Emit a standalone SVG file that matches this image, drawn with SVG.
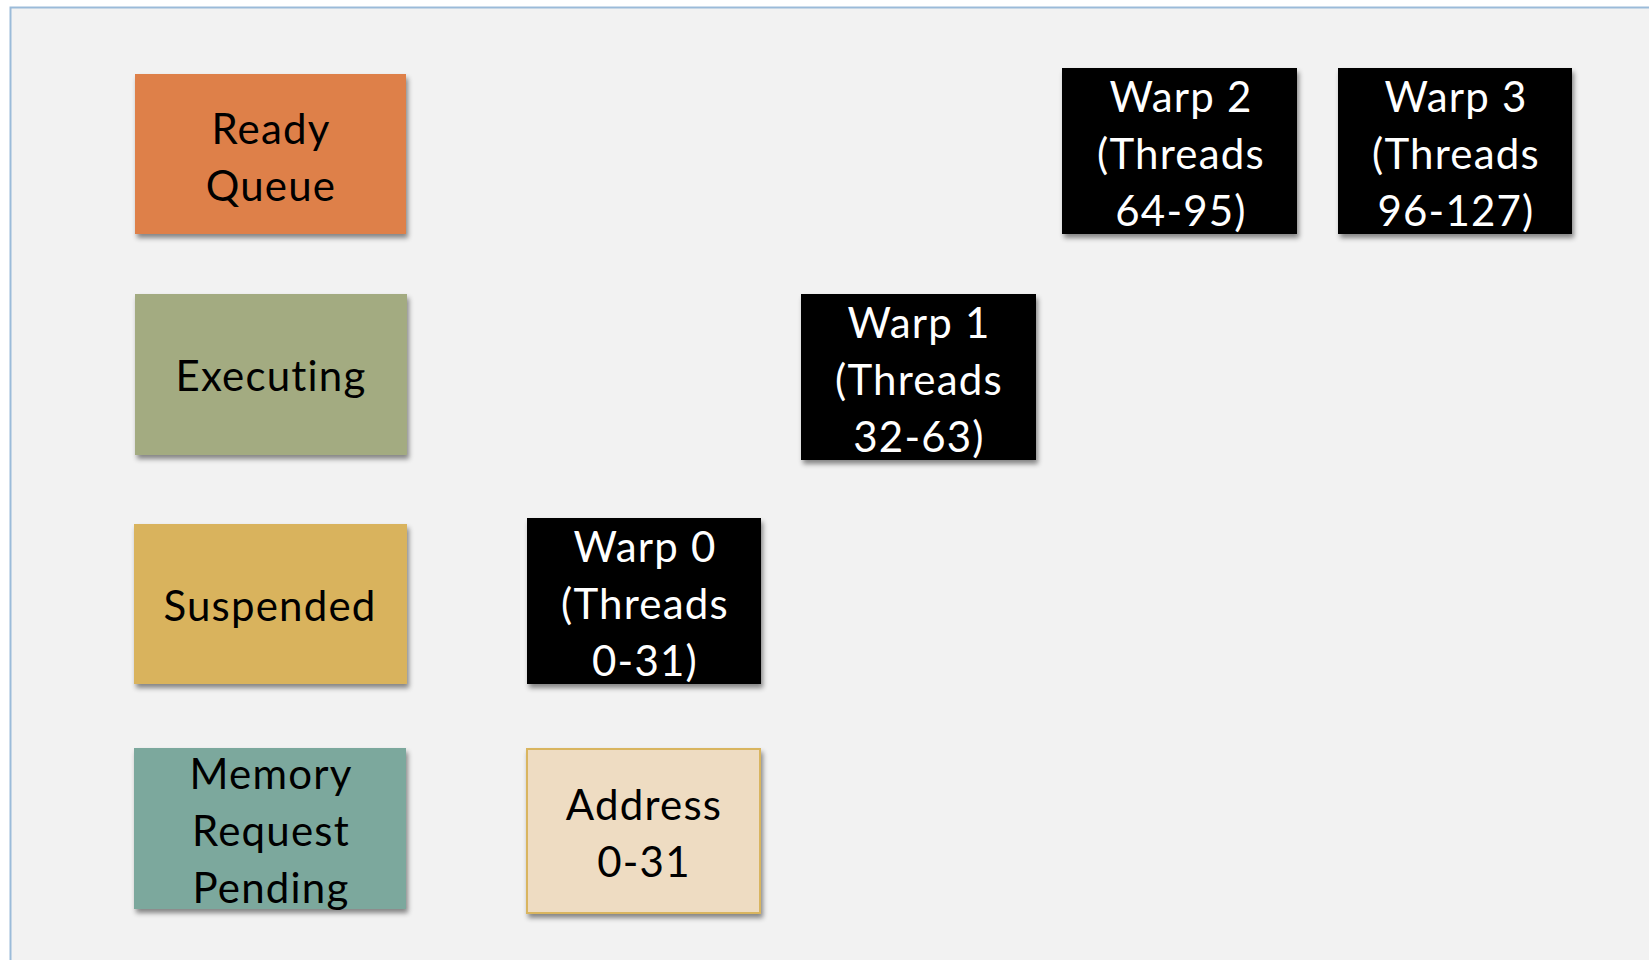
<svg xmlns="http://www.w3.org/2000/svg" width="1649" height="960" viewBox="0 0 1649 960">
<defs>
<filter id="sh" x="-10%" y="-10%" width="125%" height="130%">
<feDropShadow dx="2" dy="4" stdDeviation="2.5" flood-color="#000" flood-opacity="0.45"/>
</filter>
<style>
.t{font-family:Lato,"Open Sans","Liberation Sans",sans-serif;font-size:42px;letter-spacing:1.2px;text-anchor:middle;fill:#000}
.w{fill:#fff}
.blk{fill:#000}
</style>
</defs>
<rect x="0" y="0" width="1649" height="960" fill="#ffffff"/>
<rect id="frame" x="10.5" y="7.5" width="1660" height="980" fill="#f2f2f2" stroke="#9bbbd9" stroke-width="2"/>

<g id="ready-queue">
<rect x="135" y="74" width="271" height="160" fill="#de8048" filter="url(#sh)"/>
<text class="t" x="271" y="144">Ready</text>
<text class="t" x="271" y="201">Queue</text>
</g>

<g id="executing">
<rect x="135" y="294" width="272" height="161" fill="#a3ab81" filter="url(#sh)"/>
<text class="t" x="271" y="391">Executing</text>
</g>

<g id="suspended">
<rect x="134" y="524" width="273" height="160" fill="#d9b35d" filter="url(#sh)"/>
<text class="t" x="270" y="621">Suspended</text>
</g>

<g id="memory-request-pending">
<rect x="134" y="748" width="272" height="161" fill="#7ba89d" filter="url(#sh)"/>
<text class="t" x="271" y="789">Memory</text>
<text class="t" x="271" y="846">Request</text>
<text class="t" x="271" y="903">Pending</text>
</g>

<g id="warp0">
<rect class="blk" x="527" y="518" width="234" height="166" filter="url(#sh)"/>
<text class="t w" x="645" y="562">Warp 0</text>
<text class="t w" x="645" y="619">(Threads</text>
<text class="t w" x="645" y="676">0-31)</text>
</g>

<g id="address">
<rect x="527" y="749" width="233" height="164" fill="#eedcc2" stroke="#d9b55e" stroke-width="2" filter="url(#sh)"/>
<text class="t" x="644" y="820">Address</text>
<text class="t" x="644" y="877">0-31</text>
</g>

<g id="warp1">
<rect class="blk" x="801" y="294" width="235" height="166" filter="url(#sh)"/>
<text class="t w" x="919" y="338">Warp 1</text>
<text class="t w" x="919" y="395">(Threads</text>
<text class="t w" x="919" y="452">32-63)</text>
</g>

<g id="warp2">
<rect class="blk" x="1062" y="68" width="235" height="166" filter="url(#sh)"/>
<text class="t w" x="1181" y="112">Warp 2</text>
<text class="t w" x="1181" y="169">(Threads</text>
<text class="t w" x="1181" y="226">64-95)</text>
</g>

<g id="warp3">
<rect class="blk" x="1338" y="68" width="234" height="166" filter="url(#sh)"/>
<text class="t w" x="1456" y="112">Warp 3</text>
<text class="t w" x="1456" y="169">(Threads</text>
<text class="t w" x="1456" y="226">96-127)</text>
</g>

<g id="connectors"></g>
</svg>
